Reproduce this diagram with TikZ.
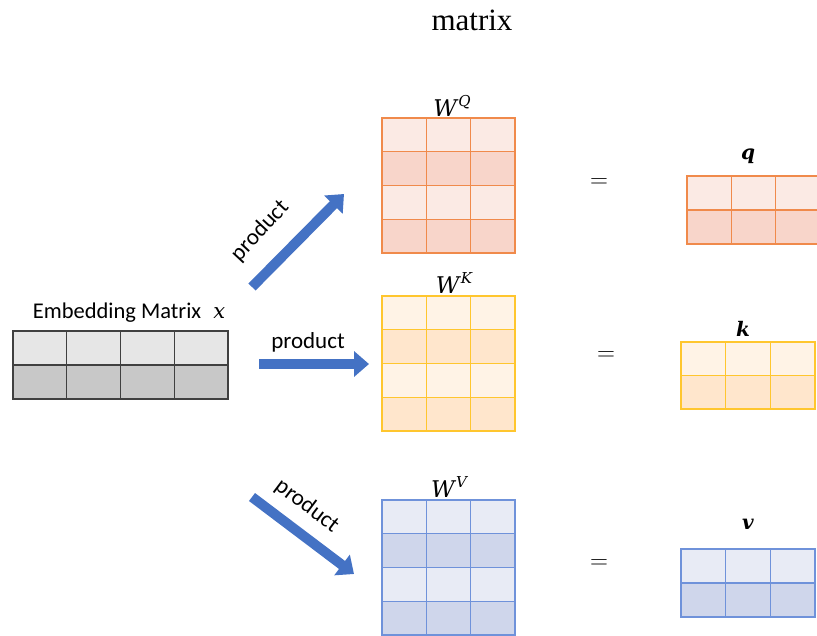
\documentclass[tikz,border=0pt]{standalone}
\usepackage{fontspec}
\setmainfont{Liberation Serif}
\newfontfamily\labelfont{Carlito}
\newfontfamily\glyphfont{DejaVu Serif}
\usetikzlibrary{arrows.meta}

% colour families: <prefix>line, <prefix>light, <prefix>dark
\definecolor{qline}{HTML}{F08A4B}
\definecolor{qlight}{HTML}{FBEAE4}
\definecolor{qdark}{HTML}{F8D5CA}
\definecolor{kline}{HTML}{FFC62E}
\definecolor{klight}{HTML}{FFF3E6}
\definecolor{kdark}{HTML}{FFE6CC}
\definecolor{vline}{HTML}{6F92DA}
\definecolor{vlight}{HTML}{E8EBF5}
\definecolor{vdark}{HTML}{CFD6EB}
\definecolor{eline}{HTML}{404040}
\definecolor{elight}{HTML}{E6E6E6}
\definecolor{edark}{HTML}{C8C8C8}
\definecolor{arrowblue}{HTML}{4472C4}

% grid matrix: #1 name, #2 x0, #3 y0, #4 x1, #5 y1, #6 columns, #7 rows, #8 colour prefix
\newcommand{\gridmat}[8]{%
  \coordinate (#1-nw) at (#2,#3);
  \coordinate (#1-se) at (#4,#5);
  \pgfmathsetmacro\gmcw{(#4-#2)/#6}%
  \pgfmathsetmacro\gmrh{(#5-#3)/#7}%
  \fill[#8light] (#1-nw) rectangle (#1-se);
  \foreach \r in {1,...,#7}{%
    \ifodd\r\else
      \fill[#8dark] (#2,{#3+(\r-1)*\gmrh}) rectangle (#4,{#3+\r*\gmrh});
    \fi
  }
  \foreach \c in {1,...,#6}{%
    \ifnum\c<#6\relax
      \draw[gridline=#8line] ({#2+\c*\gmcw},#3) -- ({#2+\c*\gmcw},#5);
    \fi
  }
  \foreach \r in {1,...,#7}{%
    \ifnum\r<#7\relax
      \draw[gridline=#8line] (#2,{#3+\r*\gmrh}) -- (#4,{#3+\r*\gmrh});
    \fi
  }
  \draw[gridline=#8line] (#1-nw) rectangle (#1-se);
}

% italic W with a raised index, in the glyph face
\newcommand{\wsym}[1]{{\glyphfont\itshape W\kern1.5pt\raisebox{0.42em}{\fontsize{15}{17}\selectfont #1}}}

\tikzset{
  gridline/.style={draw=#1, line width=1.4pt},
  blockarrow/.style={arrowblue, line width=10pt,
    -{Triangle[width=25pt,length=15pt]}},
  prodlabel/.style={font=\labelfont\fontsize{23}{26}\selectfont, inner sep=0pt},
  wlabel/.style={font=\glyphfont\itshape\fontsize{23}{26}\selectfont, inner sep=0pt},
  veclabel/.style={font=\glyphfont\bfseries\itshape\fontsize{20}{24}\selectfont, inner sep=0pt},
  eqlabel/.style={font=\fontsize{24}{26}\selectfont, inner sep=0pt},
}

\begin{document}
\begin{tikzpicture}[x=1pt,y=-1pt]
\useasboundingbox (0,0) rectangle (817,635);
\begin{scope}
\clip (0,0) rectangle (817,635);

% title
\node[font=\fontsize{31}{34}\selectfont, inner sep=0pt] (title) at (472,20) {matrix};

% embedding matrix
\gridmat{emb}{13}{331}{228}{399}{4}{2}{e}
\node[font=\labelfont\fontsize{22.5}{26}\selectfont, inner sep=0pt, anchor=base] (embl) at (129,318)
  {Embedding Matrix\hspace{12pt}{\glyphfont\itshape\fontsize{21}{24}\selectfont x}};

% weight matrices
\gridmat{wq}{382}{118}{515}{253}{3}{4}{q}
\gridmat{wk}{382}{296}{515}{431}{3}{4}{k}
\gridmat{wv}{382}{500}{515}{635}{3}{4}{v}
\node[wlabel, anchor=base] (wql) at (452,116) {\wsym{Q}};
\node[wlabel, anchor=base] (wkl) at (454,293) {\wsym{K}};
\node[wlabel, anchor=base] (wvl) at (449,497) {\wsym{V}};

% results
\gridmat{q}{687}{176}{820}{244}{3}{2}{q}
\gridmat{k}{681}{342}{815}{409}{3}{2}{k}
\gridmat{v}{681}{549}{815}{617}{3}{2}{v}
\node[veclabel, anchor=base] (ql) at (748,159) {q};
\node[veclabel, anchor=base] (kl) at (743,336) {k};
\node[veclabel, anchor=base] (vl) at (748,529) {v};

% equals signs
\node[eqlabel] (eq1) at (599,183) {$=$};
\node[eqlabel] (eq2) at (606,356) {$=$};
\node[eqlabel] (eq3) at (599,564) {$=$};

% product arrows
\coordinate (aq0) at (252,287);
\coordinate (aq1) at (344,194);
\coordinate (ak0) at (259,364);
\coordinate (ak1) at (369,364);
\coordinate (av0) at (252,497);
\coordinate (av1) at (354,574);
\draw[blockarrow] (aq0) -- (aq1);
\draw[blockarrow] (ak0) -- (ak1);
\draw[blockarrow] (av0) -- (av1);
\node[prodlabel, rotate=47] (pq) at (260,231) {product};
\node[prodlabel] (pk) at (308,342) {product};
\node[prodlabel, rotate=-37] (pv) at (307,506) {product};
\end{scope}
\end{tikzpicture}
\end{document}
